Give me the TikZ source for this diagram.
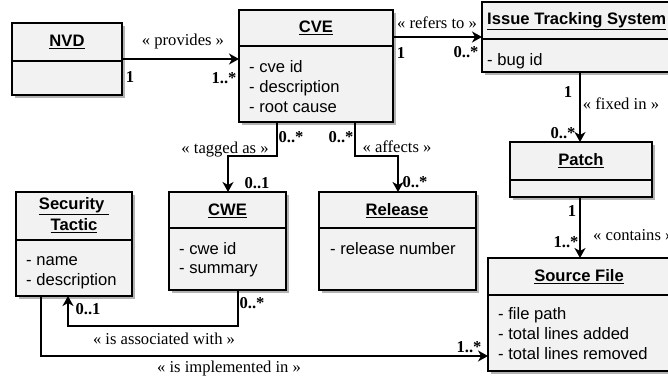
\documentclass[tikz,border=0pt]{standalone}
\usepackage{fontspec}
\setmainfont{Liberation Serif}
\setsansfont{Liberation Sans}
\usetikzlibrary{arrows.meta,shadows}
\definecolor{boxfill}{HTML}{F2F2F2}
\definecolor{shadowgray}{HTML}{B3B3B3}
\tikzset{
  umlbox/.style={draw, line width=1.5pt, fill=boxfill, rectangle, inner sep=0pt, outer sep=0pt, anchor=north west,
    drop shadow={shadow xshift=3pt, shadow yshift=-3pt, fill=shadowgray, opacity=1}},
  divider/.style={line width=1.5pt},
  title/.style={font=\sffamily\bfseries\fontsize{16.6}{19}\selectfont, inner sep=0pt, align=center},
  attrs/.style={font=\sffamily\fontsize{16.6}{19.8}\selectfont, inner sep=0pt, anchor=north west, align=left},
  lbl/.style={font=\rmfamily\fontsize{16.6}{19}\selectfont, inner sep=0pt},
  mult/.style={font=\rmfamily\bfseries\fontsize{16.6}{19}\selectfont, inner sep=0pt},
  conn/.style={line width=1.5pt, -{Stealth[length=10pt,width=11pt,inset=3pt]}},
}
\begin{document}
\begin{tikzpicture}[x=1pt,y=-1pt]
\useasboundingbox (0,0) rectangle (668,379);
\clip (0,0) rectangle (668,379);
\fill[white] (0,0) rectangle (668,379);

% boxes
\node[umlbox, minimum width=110pt, minimum height=72pt] (nvd) at (12,23) {};
\node[umlbox, minimum width=154pt, minimum height=112pt] (cve) at (239,10) {};
\node[umlbox, minimum width=230pt, minimum height=70pt] (its) at (482,2) {};
\node[umlbox, minimum width=142pt, minimum height=55pt] (patch) at (510,142) {};
\node[umlbox, minimum width=230pt, minimum height=113pt] (src) at (488,258) {};
\node[umlbox, minimum width=157pt, minimum height=98pt] (rel) at (319,192) {};
\node[umlbox, minimum width=117pt, minimum height=98pt] (cwe) at (169,192) {};
\node[umlbox, minimum width=116pt, minimum height=104pt] (tac) at (16,192) {};

% dividers
\draw[divider] (nvd.west |- 0,61) -- (nvd.east |- 0,61);
\draw[divider] (cve.west |- 0,46) -- (cve.east |- 0,46);
\draw[divider] (its.west |- 0,39) -- (its.east |- 0,39);
\draw[divider] (patch.west |- 0,180) -- (patch.east |- 0,180);
\draw[divider] (src.west |- 0,295) -- (src.east |- 0,295);
\draw[divider] (rel.west |- 0,228) -- (rel.east |- 0,228);
\draw[divider] (cwe.west |- 0,228) -- (cwe.east |- 0,228);
\draw[divider] (tac.west |- 0,240) -- (tac.east |- 0,240);

% titles
\node[title] (nvdT) at (67,42) {\underline{NVD}};
\node[title] (cveT) at (316,28) {\underline{CVE}};
\node[title, anchor=west] (itsT) at (487,21) {\underline{Issue Tracking System}};
\node[title] (patchT) at (581,161) {\underline{Patch}};
\node[title] (srcT) at (579,277) {\underline{Source File}};
\node[title] (relT) at (397,211) {\underline{Release}};
\node[title] (cweT) at (227.5,211) {\underline{CWE}};
\node[title] (tacT1) at (74,206.5) {\underline{Security }};
\node[title] (tacT2) at (74,225.5) {\underline{Tactic}};

% attributes
\node[attrs] (cveA) at (249,58.4) {\strut- cve id\\\strut- description\\\strut- root cause};
\node[attrs] (itsA) at (487,51.7) {\strut- bug id};
\node[attrs] (tacA) at (26,251.4) {\strut- name\\\strut- description};
\node[attrs] (cweA) at (179,240) {\strut- cwe id\\\strut- summary};
\node[attrs] (relA) at (330,240) {\strut- release number};
\node[attrs] (srcA) at (498,305.4) {\strut- file path\\\strut- total lines added\\\strut- total lines removed};

% connectors
\draw[conn] (nvd.east |- 0,59) -- (cve.west |- 0,59);
\draw[conn] (cve.east |- 0,37) -- (its.west |- 0,37);
\draw[conn] (its.south -| 580,0) -- (patch.north -| 580,0);
\draw[conn] (patch.south -| 580,0) -- (src.north -| 580,0);
\draw[conn] (cve.south -| 277,0) -- (277,156) -- (228,156) -- (cwe.north -| 228,0);
\draw[conn] (cve.south -| 355,0) -- (355,156) -- (398,156) -- (rel.north -| 398,0);
\draw[conn] (cwe.south -| 238,0) -- (238,326) -- (68,326) -- (tac.south -| 68,0);
\draw[conn] (tac.south -| 41,0) -- (41,356) -- (src.west |- 0,356);

% labels
\node[lbl] (l1) at (183,42) {« provides »};
\node[lbl] (l2) at (437,23) {« refers to »};
\node[lbl] (l3) at (621,104) {« fixed in »};
\node[lbl, anchor=west] (l4) at (593,235) {« contains »};
\node[lbl] (l5) at (225,150) {« tagged as »};
\node[lbl] (l6) at (397,147) {« affects »};
\node[lbl] (l7) at (164,339) {« is associated with »};
\node[lbl] (l8) at (229,369) {« is implemented in »};

% multiplicities
\node[mult] (m1) at (130,77) {1};
\node[mult] (m2) at (224,78) {1..*};
\node[mult] (m3) at (401,53) {1};
\node[mult] (m4) at (466,52) {0..*};
\node[mult] (m5) at (568,92) {1};
\node[mult] (m6) at (563,133) {0..*};
\node[mult] (m7) at (572,211) {1};
\node[mult] (m8) at (566,242) {1..*};
\node[mult] (m9) at (291,137) {0..*};
\node[mult] (m10) at (341,137) {0..*};
\node[mult] (m11) at (257,183) {0..1};
\node[mult] (m12) at (415,182) {0..*};
\node[mult] (m13) at (252,303) {0..*};
\node[mult] (m14) at (88,309) {0..1};
\node[mult] (m15) at (469,347) {1..*};
\end{tikzpicture}
\end{document}
